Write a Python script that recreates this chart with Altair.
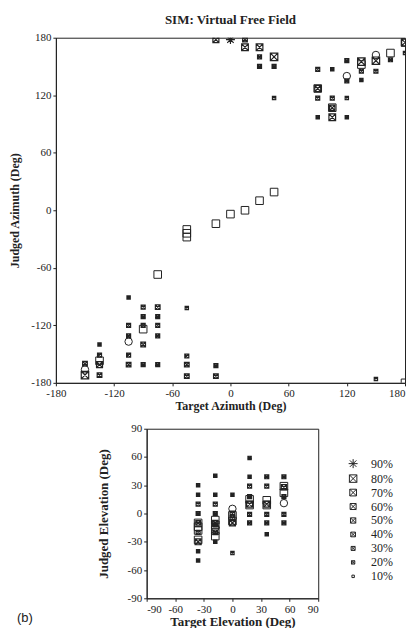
import altair as alt
import pandas as pd

FONT = "Liberation Serif"
INK = "#222222"

levels = ["90%", "80%", "70%", "60%", "50%", "40%", "30%", "20%", "10%"]

# ---- Azimuth panel: percentage-of-judgment symbols ----
az_target = [-15, 0, 15, 15, 30, 30, 30, 45, 45, 45,
             90, 90, 90, 90, 105, 105, 105, 105, 120, 120, 120, 120,
             135, 135, 135, 150, 150, 165, 180, 180,
             -150, -150, -135, -135, -135, -135,
             -105, -105, -105, -105, -105,
             -90, -90, -90, -90, -90,
             -75, -75, -75, -75, -75,
             -45, -45, -45, -45, -15, -15, 150]
az_judged = [178, 178, 178, 170, 170, 160, 150, 160, 150, 117,
             147, 127, 117, 97, 147, 117, 107, 97, 156, 135, 117, 97,
             155, 145, 136, 156, 145, 157, 175, 164,
             -160, -172, -140, -151, -161, -172,
             -91, -120, -131, -151, -161,
             -101, -111, -120, -140, -161,
             -101, -111, -120, -131, -161,
             -102, -152, -161, -173, -162, -173, -176]
az_level = ["60%", "90%", "40%", "70%", "70%", "30%", "30%", "80%", "30%", "20%",
            "30%", "60%", "30%", "20%", "20%", "30%", "50%", "70%", "30%", "30%", "20%", "20%",
            "80%", "30%", "20%", "80%", "30%", "30%", "70%", "20%",
            "40%", "80%", "20%", "30%", "60%", "40%",
            "20%", "30%", "30%", "30%", "40%",
            "30%", "30%", "30%", "40%", "30%",
            "40%", "30%", "30%", "30%", "30%",
            "20%", "30%", "40%", "40%", "30%", "40%", "20%"]
# open squares and circles
az_sq_target = [-135, -90, -75, -45, -45, -45, -15, 0, 15, 30, 45, 90, 105, 135, 165, 180, 180]
az_sq_judged = [-157, -124, -67, -20, -24, -28, -14, -4, 0, 10, 19, 127, 107, 152, 164, 175, -180]
az_ci_target = [-150, -105, 120, 150]
az_ci_judged = [-166, -137, 140, 162]

# ---- Elevation panel ----
el_target = [-36, -36, -36, -36, -36, -36, -36, -36, -36,
             -18, -18, -18, -18, -18, -18, -18, -18,
             0, 0, 0, 0, 0,
             18, 18, 18, 18, 18, 18, 18,
             36, 36, 36, 36, 36, 36,
             54, 54, 54, 54, 54]
el_judged = [30, 20, 10, 0, -10, -20, -30, -40, -50,
             40, 20, 10, 0, -10, -20, -30, -12,
             20, 0, -10, -5, -42,
             59, 39, 29, 18, 10, -1, -10,
             39, 29, 10, -1, -10, -22,
             39, 28, 18, -1, -10]
el_level = ["20%", "20%", "30%", "30%", "40%", "30%", "60%", "20%", "20%",
            "20%", "20%", "30%", "30%", "50%", "40%", "20%", "30%",
            "20%", "40%", "60%", "40%", "20%",
            "20%", "20%", "30%", "30%", "60%", "30%", "30%",
            "30%", "30%", "60%", "30%", "30%", "20%",
            "30%", "50%", "30%", "30%", "30%"]
el_sq_target = [-36, -36, -36, -36, -18, -18, -18, -18, 0, 0, 18, 18, 36, 36, 54, 54]
el_sq_judged = [-10, -14, -18, -28, -7, -12, -18, -24, -2, -8, 15, 9, 14, 9, 29, 22]
el_ci_target = [-18, 0, 54]
el_ci_judged = [-15, 5, 11]

asterisk = "M-1,0L1,0M0,-1L0,1M-0.72,-0.72L0.72,0.72M0.72,-0.72L-0.72,0.72"
boxx = "M-1,-1L1,-1L1,1L-1,1Z M-1,-1L1,1M1,-1L-1,1"
shapes = [asterisk, boxx, boxx, boxx, boxx, boxx, boxx, boxx, "square"]
sizes = [81, 56, 45, 36, 28, 22, 16, 11, 6]

az_df = pd.DataFrame({"target": az_target, "judged": az_judged, "level": az_level})
az_sq = pd.DataFrame({"target": az_sq_target, "judged": az_sq_judged})
az_ci = pd.DataFrame({"target": az_ci_target, "judged": az_ci_judged})
el_df = pd.DataFrame({"target": el_target, "judged": el_judged, "level": el_level})
el_sq = pd.DataFrame({"target": el_sq_target, "judged": el_sq_judged})
el_ci = pd.DataFrame({"target": el_ci_target, "judged": el_ci_judged})


def axis(title, values, lfs, tfs, tpad, last_right=False):
    kw = dict(title=title, values=values, grid=False, tickSize=3, tickColor=INK,
              domainColor=INK, labelFont=FONT, labelFontSize=lfs,
              labelColor=INK, titleFont=FONT, titleFontSize=tfs, titleFontWeight="bold",
              titleColor=INK, labelExpr="'' + datum.value", labelPadding=2,
              titlePadding=tpad)
    if last_right:
        kw["labelAlign"] = {"condition": {"test": "datum.value == 180", "value": "right"},
                            "value": "center"}
    return alt.Axis(**kw)


def panel(pts, sq, ci, lim, ticks, xt, yt, w, h, legend, lfs, tfs, xpad, ypad, last_right):
    xs = alt.X("target:Q", scale=alt.Scale(domain=[-lim, lim], nice=False),
               axis=axis(xt, ticks, lfs, tfs, xpad, last_right))
    ys = alt.Y("judged:Q", scale=alt.Scale(domain=[-lim, lim], nice=False),
               axis=axis(yt, ticks, lfs, tfs, ypad))
    p = alt.Chart(pts).mark_point(filled=False, color=INK, strokeWidth=1.2, opacity=1,
                                  clip=True).encode(
        x=xs, y=ys,
        shape=alt.Shape("level:O", scale=alt.Scale(type="ordinal", domain=levels, range=shapes),
                        legend=legend),
        size=alt.Size("level:O", scale=alt.Scale(type="ordinal", domain=levels, range=sizes),
                      legend=legend),
    )
    s = alt.Chart(sq).mark_point(shape="square", filled=False, size=58, strokeWidth=1,
                                 color=INK, opacity=1, clip=True).encode(x=xs, y=ys)
    c = alt.Chart(ci).mark_point(shape="circle", filled=False, size=55, strokeWidth=1,
                                 color=INK, opacity=1, clip=True).encode(x=xs, y=ys)
    return alt.layer(s, c, p).properties(width=w, height=h)


top = panel(az_df, az_sq, az_ci, 180, [-180, -120, -60, 0, 60, 120, 180],
            "Target Azimuth (Deg)", "Judged Azimuth (Deg)", 350, 346, None,
            11, 12, 2, 9, True).properties(
    title=alt.TitleParams("SIM: Virtual Free Field", font=FONT, fontSize=13,
                          fontWeight="bold", color=INK, offset=5))

leg = alt.Legend(title=None, orient="none", legendX=292, legendY=29, labelFont=FONT,
                 labelFontSize=12, labelColor=INK, rowPadding=2, labelOffset=12,
                 symbolStrokeColor=INK, symbolStrokeWidth=1)
bottom = panel(el_df, el_sq, el_ci, 90, [-90, -60, -30, 0, 30, 60, 90],
               "Target Elevation (Deg)", "Judged Elevation (Deg)", 172, 170, leg,
               11, 13, 1, 17, False)

spacer = alt.Chart(pd.DataFrame({"t": ["(b)"]})).mark_text(
    font="Liberation Sans", fontSize=13, align="left", baseline="middle", color=INK).encode(
    text="t:N", x=alt.value(-39), y=alt.value(190)).properties(
    width=29, height=170, view=alt.ViewBackground(stroke="transparent"))

chart = alt.vconcat(top, alt.hconcat(spacer, bottom, spacing=10), spacing=9).resolve_scale(
    shape="independent", size="independent").configure_view(stroke=INK, strokeWidth=1).properties(
    background="white", padding={"left": 0, "top": 4, "right": 0, "bottom": 0})

chart.save("out.html", embed_options={"renderer": "svg", "actions": False})
